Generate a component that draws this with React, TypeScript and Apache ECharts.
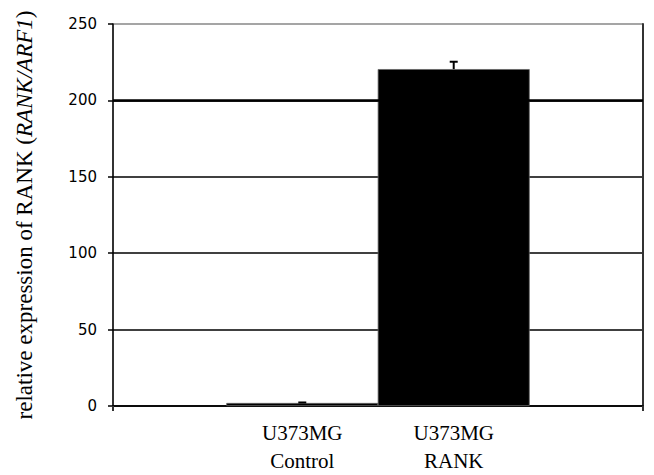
import React, { useEffect, useRef } from "react";
import * as echarts from "echarts";

const categories = ["U373MG\nControl", "U373MG\nRANK"];
const positions = [2.5, 4.5];
const values = [2, 220.5];
const errors = [0.3, 4.8];
const yTicks = [0, 50, 100, 150, 200, 250];

export default function App() {
  const ref = useRef<HTMLDivElement>(null);
  useEffect(() => {
    document.body.style.margin = "0";
    const chart = echarts.init(ref.current!, undefined, { renderer: "svg" });
    const serif = "Liberation Serif";
    chart.setOption({
      animation: false,
      grid: {
        left: 113,
        right: 11,
        top: 24,
        bottom: 66,
        show: true,
        borderColor: "#999",
        borderWidth: 1,
        backgroundColor: "transparent",
      },
      xAxis: {
        type: "value",
        min: 0,
        max: 7,
        splitLine: { show: false },
        axisLine: { show: true, onZero: false, lineStyle: { color: "#000", width: 1.5 } },
        axisTick: {
          show: true,
          customValues: [0, 7],
          length: 5,
          lineStyle: { color: "#333", width: 2 },
        },
        axisLabel: {
          customValues: positions,
          formatter: (v: number) => {
            const i = positions.indexOf(v);
            return i >= 0 ? categories[i] : "";
          },
          fontFamily: serif,
          fontSize: 21,
          lineHeight: 28,
          color: "#000",
          margin: 13,
        },
      },
      yAxis: [
        {
          type: "value",
          min: 0,
          max: 250,
          interval: 50,
          name: "{n|relative expression of RANK (}{i|RANK/ARF1}{n|)}",
          nameLocation: "middle",
          nameRotate: 90,
          nameGap: 77,
          nameTextStyle: {
            rich: {
              n: { fontFamily: serif, fontSize: 23, color: "#000" },
              i: { fontFamily: serif, fontSize: 23, fontStyle: "italic", color: "#000" },
            },
          },
          axisLine: { show: true, lineStyle: { color: "#000", width: 1.5 } },
          axisTick: { show: true, length: 5, lineStyle: { color: "#000", width: 1.5 } },
          axisLabel: {
            fontFamily: "DejaVu Sans",
            fontSize: 15,
            color: "#000",
            margin: 16,
            formatter: (v: number) => (yTicks.includes(v) ? String(v) : ""),
          },
          splitLine: {
            show: true,
            lineStyle: {
              color: ["#000", "#000", "#000", "#000", "#000", "#999"],
              width: 1.6,
            },
          },
        },
        {
          type: "value",
          min: 0,
          max: 250,
          interval: 50,
          position: "right",
          axisLine: { show: true, lineStyle: { color: "#333", width: 2 } },
          axisTick: { show: false },
          axisLabel: { show: false },
          splitLine: { show: false },
        },
      ],
      series: [
        {
          type: "bar",
          data: positions.map((p, i) => [p, values[i]]),
          barWidth: 152,
          itemStyle: { color: "#000", borderColor: "#666", borderWidth: 0.8 },
          z: 3,
          markLine: {
            silent: true,
            symbol: "none",
            label: { show: false },
            lineStyle: { color: "#000", width: 2.6, type: "solid" },
            data: [{ yAxis: 200 }],
          },
        },
        {
          type: "custom",
          z: 4,
          data: positions.map((p, i) => [p, values[i], values[i] + errors[i]]),
          renderItem: (params: any, api: any) => {
            const x = api.value(0);
            const base = api.coord([x, api.value(1)]);
            const top = api.coord([x, api.value(2)]);
            return {
              type: "group",
              children: [
                {
                  type: "line",
                  shape: { x1: base[0], y1: base[1], x2: top[0], y2: top[1] },
                  style: { stroke: "#000", lineWidth: 2 },
                },
                {
                  type: "line",
                  shape: { x1: top[0] - 4, y1: top[1], x2: top[0] + 4, y2: top[1] },
                  style: { stroke: "#000", lineWidth: 2 },
                },
              ],
            };
          },
        },
      ],
    });
    return () => chart.dispose();
  }, []);
  return <div ref={ref} style={{ width: 654, height: 475 }} />;
}
